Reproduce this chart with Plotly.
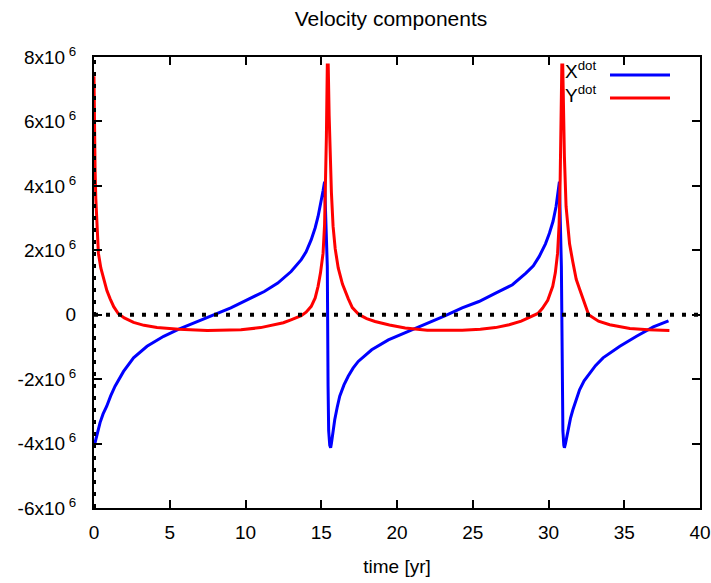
import numpy as np
import plotly.graph_objects as go

# time [yr] for X dot
t_x = [0.0, 0.05, 0.1, 0.2, 0.40, 0.6, 0.84, 1.1, 1.39, 1.95, 2.61, 3.50, 4.60, 5.60, 6.82,
       7.92, 9.03, 10.14, 11.24, 12.13, 13.01, 13.68, 14.0, 14.34, 14.6, 14.79, 14.98,
       15.12, 15.22, 15.40, 15.45, 15.49, 15.56, 15.62, 15.67, 15.75, 15.89, 16.05, 16.22,
       16.5, 16.78, 17.1, 17.44, 18.33, 19.43, 20.98, 22.31, 23.19, 24.30, 25.41, 26.51,
       27.62, 28.51, 29.0, 29.39, 29.8, 30.06, 30.30, 30.50, 30.63, 30.72, 30.85, 30.90,
       30.95, 31.01, 31.05, 31.12, 31.28, 31.45, 31.61, 31.8, 32.05, 32.35, 32.72, 33.10,
       33.60, 34.71, 35.81, 36.92, 37.92]
# X dot, in units of 1e6
xdot_1e6 = [-4.1, -4.0, -3.85, -3.65, -3.35, -3.08, -2.84, -2.52, -2.22, -1.76, -1.34, -0.98,
            -0.67, -0.45, -0.21, 0.0, 0.21, 0.47, 0.72, 0.98, 1.34, 1.71, 1.95, 2.33, 2.70,
            3.05, 3.45, 3.85, 4.13, 1.5, -2.22, -3.6, -4.05, -4.13, -4.0, -3.7, -3.26, -2.88,
            -2.53, -2.18, -1.91, -1.66, -1.45, -1.09, -0.78, -0.47, -0.21, -0.03, 0.21, 0.41,
            0.67, 0.93, 1.29, 1.52, 1.81, 2.20, 2.53, 2.90, 3.36, 3.75, 4.13, 1.5, -2.22, -3.6,
            -4.05, -4.13, -4.0, -3.57, -3.22, -2.95, -2.65, -2.33, -2.05, -1.81, -1.58, -1.34,
            -0.98, -0.67, -0.38, -0.19]

# time [yr] for Y dot
t_y = [0.0, 0.03, 0.07, 0.12, 0.18, 0.29, 0.45, 0.62, 0.85, 1.06, 1.3, 1.61, 2.0, 2.61,
       3.3, 4.16, 5.60, 7.48, 9.70, 11.0, 11.70, 12.5, 13.00, 13.68, 14.0, 14.34, 14.6,
       14.79, 14.95, 15.12, 15.22, 15.29, 15.34, 15.40, 15.46, 15.52, 15.58, 15.67, 15.78,
       15.92, 16.12, 16.40, 16.78, 17.05, 17.5, 18.0, 18.55, 19.5, 20.54, 22.0, 24.3, 25.5,
       26.5, 27.4, 28.2, 28.8, 29.3, 29.6, 29.95, 30.28, 30.45, 30.6, 30.70, 30.77, 30.82,
       30.88, 30.94, 31.00, 31.05, 31.16, 31.28, 31.39, 31.6, 31.83, 32.05, 32.3, 32.65,
       33.3, 34.04, 35.37, 36.6, 37.98]
ydot_1e6 = [7.4, 5.8, 4.5, 3.6, 2.95, 1.91, 1.45, 1.15, 0.75, 0.50, 0.25, 0.03, -0.10,
            -0.24, -0.33, -0.40, -0.45, -0.49, -0.47, -0.40, -0.34, -0.25, -0.16, -0.03, 0.08,
            0.26, 0.52, 0.88, 1.30, 1.91, 2.8, 4.19, 5.53, 7.75, 7.75, 6.2, 5.0, 3.80, 2.75,
            2.05, 1.45, 0.95, 0.50, 0.22, 0.0, -0.12, -0.21, -0.32, -0.41, -0.48, -0.48, -0.45,
            -0.40, -0.31, -0.20, -0.08, 0.04, 0.20, 0.45, 0.88, 1.30, 1.91, 2.8, 4.2, 5.43,
            7.75, 7.75, 6.2, 4.9, 3.36, 2.75, 2.2, 1.65, 1.1, 0.80, 0.45, 0.0, -0.2, -0.31,
            -0.43, -0.47, -0.49]

x_ticks = [0, 5, 10, 15, 20, 25, 30, 35, 40]
y_ticks_1e6 = [-6, -4, -2, 0, 2, 4, 6, 8]
y_ticklabels = ["-6x10<sup> 6</sup>", "-4x10<sup> 6</sup>", "-2x10<sup> 6</sup>", "0",
                "2x10<sup> 6</sup>", "4x10<sup> 6</sup>", "6x10<sup> 6</sup>", "8x10<sup> 6</sup>"]

FONT = "Liberation Sans, Arial, sans-serif"
FS = 19

fig = go.Figure()
fig.add_trace(go.Scatter(x=t_x, y=np.array(xdot_1e6) * 1e6, mode="lines",
                         line=dict(color="#0000ff", width=3), name="X dot", showlegend=False))
fig.add_trace(go.Scatter(x=t_y, y=np.array(ydot_1e6) * 1e6, mode="lines",
                         line=dict(color="#ff0000", width=3), name="Y dot", showlegend=False))

W, H = 711, 583
L, R, T, B = 94, 11, 57, 75
pw, ph = W - L - R, H - T - B

def px(xp):
    return (xp - L) / pw

def py(yp):
    return (H - B - yp) / ph

shapes = [
    dict(type="line", xref="x", yref="y", x0=0, x1=40, y0=0, y1=0,
         line=dict(color="black", width=4, dash="4px,8px"), layer="above"),
    dict(type="line", xref="x", yref="y", x0=0, x1=0, y0=-6e6, y1=8e6,
         line=dict(color="black", width=4, dash="4px,8px"), layer="above"),
    dict(type="line", xref="paper", yref="paper", x0=px(610), x1=px(670), y0=py(75), y1=py(75),
         line=dict(color="#0000ff", width=3)),
    dict(type="line", xref="paper", yref="paper", x0=px(610), x1=px(670), y0=py(98), y1=py(98),
         line=dict(color="#ff0000", width=3)),
]

annotations = [
    dict(text="X<sup>dot</sup>", xref="paper", yref="paper", x=px(598), y=py(70),
         xanchor="right", yanchor="middle", showarrow=False,
         font=dict(size=FS, family=FONT, color="black")),
    dict(text="Y<sup>dot</sup>", xref="paper", yref="paper", x=px(598), y=py(94),
         xanchor="right", yanchor="middle", showarrow=False,
         font=dict(size=FS, family=FONT, color="black")),
]

fig.update_layout(
    width=W, height=H,
    margin=dict(l=L, r=R, t=T, b=B, autoexpand=False),
    paper_bgcolor="white", plot_bgcolor="white",
    title=dict(text="Velocity components", x=px(391), xref="paper", xanchor="center",
               y=1 - 19 / H, yanchor="middle", font=dict(size=21, family=FONT, color="black")),
    font=dict(family=FONT, size=FS, color="black"),
    shapes=shapes, annotations=annotations,
    xaxis=dict(range=[0, 40], tickvals=x_ticks, ticks="inside", ticklen=8, tickwidth=2,
               tickcolor="black", showline=True, linecolor="black", linewidth=2, mirror="ticks",
               showgrid=False, zeroline=False, tickfont=dict(size=FS), automargin=False,
               ticklabelstandoff=6,
               title=dict(text="time [yr]", font=dict(size=FS), standoff=18)),
    yaxis=dict(range=[-6e6, 8e6], tickvals=[v * 1e6 for v in y_ticks_1e6], ticktext=y_ticklabels,
               ticks="inside", ticklen=8, tickwidth=2, tickcolor="black", showline=True,
               linecolor="black", linewidth=2, mirror="ticks", showgrid=False, zeroline=False,
               tickfont=dict(size=FS), automargin=False, ticklabelstandoff=12),
)

fig.write_html("out.html")
